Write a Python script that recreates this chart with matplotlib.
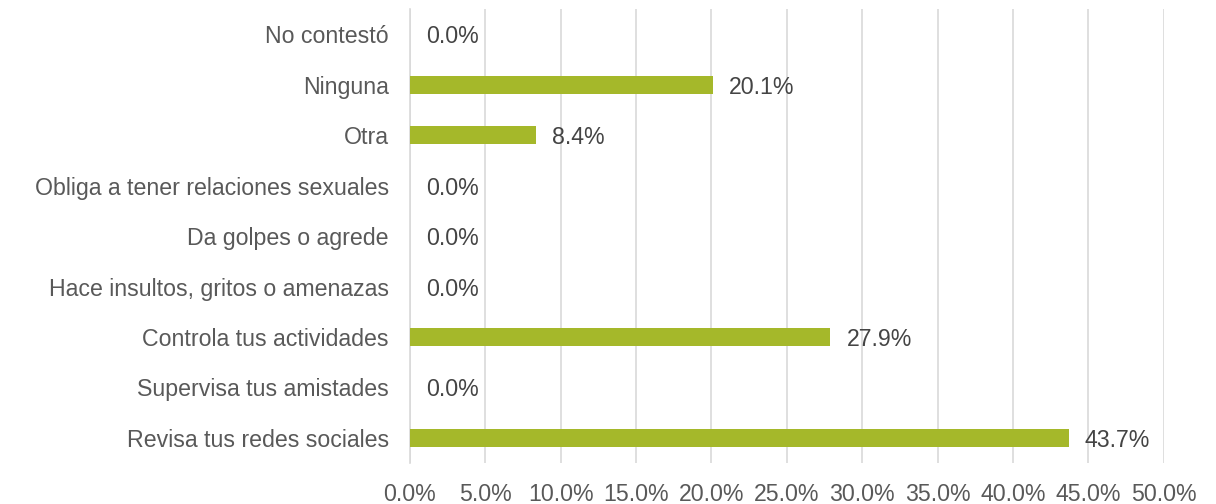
import matplotlib.pyplot as plt
import numpy as np

plt.rcParams['font.family'] = ['Liberation Sans', 'DejaVu Sans']

categorias = ['Revisa tus redes sociales', 'Supervisa tus amistades', 'Controla tus actividades',
              'Hace insultos, gritos o amenazas', 'Da golpes o agrede',
              'Obliga a tener relaciones sexuales', 'Otra', 'Ninguna', 'No contestó']
valores = [43.7, 0.0, 27.9, 0.0, 0.0, 0.0, 8.4, 20.1, 0.0]
ticks = np.arange(0, 50.1, 5)

texto = '#595959'
fs = 16.7
fig = plt.figure(figsize=(12.16, 5.04), dpi=100)
ax = fig.add_axes([0.337, 0.081, 0.62, 0.901])

y = np.arange(len(categorias))
ax.barh(y, valores, height=0.36, color='#A5B82A', zorder=3)
for yi, v in zip(y, valores):
    ax.annotate(f'{v:.1f}%', (v, yi), xytext=(11.5, 0), textcoords='offset points',
                va='center_baseline', ha='left', fontsize=fs, color='#444444')

ax.set_xlim(0, 50)
ax.set_ylim(-0.5, len(categorias) - 0.5)
ax.set_xticks(ticks)
ax.set_xticklabels([f'{t:.1f}%' for t in ticks])
ax.set_yticks(y)
ax.set_yticklabels(categorias, va='center_baseline')
ax.tick_params(axis='both', length=0, labelsize=fs, labelcolor=texto)
ax.tick_params(axis='y', pad=15)
ax.tick_params(axis='x', pad=14)
ax.grid(axis='x', color='#D9D9D9', lw=1.2, zorder=0)
for s in ['top', 'right', 'bottom']:
    ax.spines[s].set_visible(False)
ax.spines['left'].set_color('#D9D9D9')
ax.spines['left'].set_linewidth(1.2)

fig.savefig('out.png', dpi=100)
